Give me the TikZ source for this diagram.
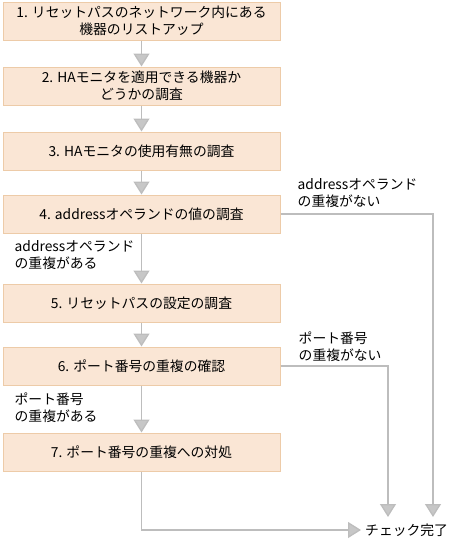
\documentclass[tikz,border=0pt]{standalone}
\usepackage{fontspec}
\setmainfont{Noto Sans CJK JP}
\usepackage{xcolor}
\usepackage{tikz}
\usetikzlibrary{arrows.meta, positioning}
\definecolor{boxfill}{HTML}{FAE6D5}
\definecolor{boxline}{HTML}{EDCBA8}
\definecolor{lineg}{HTML}{BDBDBD}
\tikzstyle{arrow} = [lineg, line width=1.3pt, -{Triangle[width=16pt,length=13pt,fill=black!22]}]
\tikzstyle{block} = [rectangle, draw=boxline, fill=boxfill, line width=1pt, minimum width=277pt, minimum height=38pt, text centered]
\tikzstyle{lbl} = [inner sep=0pt, align=left]
\tikzset{every node/.style={align=center, font=\fontsize{13.8pt}{17pt}\selectfont}}

\begin{document}
\begin{tikzpicture}[x=1pt, y=1pt, node distance=26pt]
    \useasboundingbox (0,0) rectangle (452,-544);
    \node (b1) [block] at (141.5,-21) {1. リセットパスのネットワーク内にある\\機器のリストアップ};
    \node (b2) [block, below=of b1] {2. HAモニタを適用できる機器か\\どうかの調査};
    \node (b3) [block, below=of b2] {3. HAモニタの使用有無の調査};
    \node (b4) [block, below=24pt of b3] {4. addressオペランドの値の調査};
    \node (b5) [block, below=50pt of b4] {5. リセットパスの設定の調査};
    \node (b6) [block, below=24pt of b5] {6. ポート番号の重複の確認};
    \node (b7) [block, below=47pt of b6] {7. ポート番号の重複への対処};

    \node (fin) [anchor=west, inner sep=4pt] at (361,-530) {チェック完了};
    \coordinate (e1) at (433,-517);
    \coordinate (e2) at (388,-517);

    % branch labels
    \node (l4n) [lbl, above right=6pt and 17pt of b4.east] {addressオペランド\\の重複がない};
    \node (l4y) [lbl, below right=7pt and 12pt of b4.south west] {addressオペランド\\の重複がある};
    \node (l6n) [lbl, above right=4pt and 18pt of b6.east] {ポート番号\\の重複がない};
    \node (l6y) [lbl, below right=7pt and 12pt of b6.south west] {ポート番号\\の重複がある};

    \draw [arrow] (b1) -- (b2);
    \draw [arrow] (b2) -- (b3);
    \draw [arrow] (b3) -- (b4);
    \draw [arrow] (b4) -- (b5);
    \draw [arrow] (b5) -- (b6);
    \draw [arrow] (b6) -- (b7);
    \draw [arrow] (b4.east) -| (e1);
    \draw [arrow] (b6.east) -| (e2);
    \draw [arrow] (b7.south) |- (fin.west);
\end{tikzpicture}
\end{document}
